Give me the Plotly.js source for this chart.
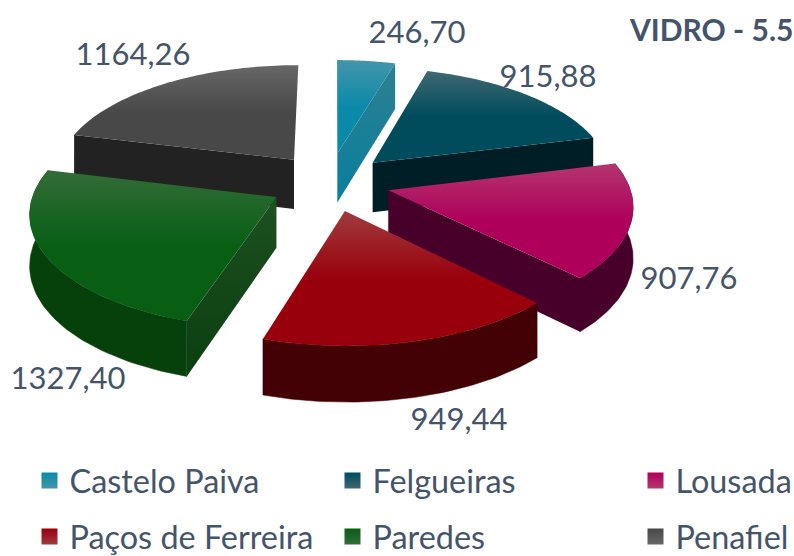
<!DOCTYPE html>
<html>
<head>
<meta charset="utf-8">
<script src="https://cdn.plot.ly/plotly-3.0.1.min.js"></script>
<style>html,body{margin:0;padding:0;background:#fff;overflow:hidden}#chart{width:794px;height:556px}</style>
</head>
<body>
<div id="chart"></div>
<script>
// ---- data ----
const categories = ["Castelo Paiva", "Felgueiras", "Lousada", "Paços de Ferreira", "Paredes", "Penafiel"];
const values = [246.70, 915.88, 907.76, 949.44, 1327.40, 1164.26];
const chartTitle = "VIDRO - 5.5";

// ---- style ----
const topLight = ["#4495aa", "#3f6871", "#b5356f", "#a03c3e", "#336c38", "#676767"];
const topDark  = ["#0a8aa8", "#004c5c", "#ae005a", "#98000c", "#085f14", "#484848"];
const sideTop  = ["#2e7f93", "#001e25", "#47002a", "#430005", "#1d5022", "#222222"];
const sideBot  = ["#077f9c", "#001e25", "#47002a", "#430005", "#0a3f0e", "#222222"];
const wall     = ["#1d7f96", "#001e25", "#47002a", "#430005", "#06400b", "#222222"];
const visibleSide = ["end", "end", "end", "", "start", "start"];
const visibleOuter = [false, false, true, true, true, false];
const pullX = [0.01, 0.16, 0.22, 0.04, -0.24, -0.175];
const pullY = [0.23, 0.14, -0.11, -0.29, -0.17, 0.17];
const labelX = [417, 548, 689, 459, 68, 133];
const labelY = [35, 79, 281, 422, 381, 57];
const drawOrder = [5, 0, 1, 4, 2, 3];
const legendX = [29.5, 332.5, 635.5, 29.5, 332.5, 635.5];
const legendY = [481, 481, 481, 537, 537, 537];
const textColor = "#44546a";
const fontName = "Lato, Carlito, sans-serif";
const W = 794, H = 556;
const CX = 335, CY = 178, A = 239, B = 110, P = 0.12, DEPTH = 50;

// ---- projection of the tilted disc ----
function project(i, th, down) {
  const X = pullX[i] + (th === null ? 0 : Math.sin(th));
  const Y = pullY[i] + (th === null ? 0 : Math.cos(th));
  const w = 1 / (1 + P * Y);
  const d = down ? DEPTH * Math.pow(w, 0.7) : 0;
  return [CX + A * X * w, CY - B * Y * w + d];
}
const total = values.reduce((a, b) => a + b, 0);
const starts = [], ends = [];
values.reduce((acc, v, i) => {
  starts[i] = acc / total * 2 * Math.PI;
  ends[i] = (acc + v) / total * 2 * Math.PI;
  return acc + v;
}, 0);

function poly(pts, fill, stops) {
  const t = {
    type: "scatter", x: pts.map(p => p[0]), y: pts.map(p => p[1]),
    fill: "toself", showlegend: false, hoverinfo: "skip"
  };
  if (stops) {
    t.mode = "none";
    t.fillgradient = { type: "vertical", colorscale: stops };
  } else {
    t.mode = "lines";
    t.line = { color: fill, width: 0.5 };
    t.fillcolor = fill;
  }
  return t;
}

const traces = [];
drawOrder.forEach(i => {
  const n = 60, arc = [];
  for (let k = 0; k <= n; k++) arc.push(starts[i] + (ends[i] - starts[i]) * k / n);
  const a0 = project(i, null, false), a1 = project(i, null, true);
  const edge = visibleSide[i] === "start" ? starts[i] : ends[i];
  if (visibleSide[i]) {
    const e0 = project(i, edge, false), e1 = project(i, edge, true);
    traces.push(poly([a0, e0, e1, a1, a0], null, [[0, sideBot[i]], [1, sideTop[i]]]));
  }
  const outerTop = arc.map(t => project(i, t, false));
  if (visibleOuter[i]) {
    const outerBot = arc.map(t => project(i, t, true)).reverse();
    traces.push(poly(outerTop.concat(outerBot, [outerTop[0]]), wall[i]));
  }
  traces.push(poly([a0].concat(outerTop, [a0]), null, [[0, topDark[i]], [0.5, topDark[i]], [1, topLight[i]]]));
});

// value labels
traces.push({
  type: "scatter", mode: "text", x: labelX, y: labelY,
  text: values.map(v => v.toFixed(2).replace(".", ",")),
  textposition: "middle center",
  textfont: { family: fontName, size: 31, color: textColor },
  showlegend: false, hoverinfo: "skip"
});

// legend entries
const legends = {};
categories.forEach((c, i) => {
  const key = i === 0 ? "legend" : "legend" + (i + 1);
  traces.push({
    type: "scatter", mode: "markers", x: [null], y: [null], name: c, legend: key,
    marker: { symbol: "square", size: 16, color: topDark[i], gradient: { type: "vertical", color: topLight[i] } }
  });
  legends[key] = {
    x: legendX[i] / W, y: 1 - legendY[i] / H, xanchor: "left", yanchor: "middle",
    bgcolor: "rgba(0,0,0,0)", borderwidth: 0, itemclick: false, itemdoubleclick: false,
    font: { family: fontName, size: 32.4, color: textColor }
  };
});

const layout = Object.assign({
  width: W, height: H, paper_bgcolor: "#fff", plot_bgcolor: "#fff",
  margin: { l: 0, r: 0, t: 0, b: 0, autoexpand: false },
  showlegend: true,
  title: {
    text: "<b>" + chartTitle + "</b>", x: 630 / W, xanchor: "left", y: 1 - 30 / H, yanchor: "middle",
    font: { family: fontName, size: 30, color: textColor }
  },
  xaxis: { range: [0, W], visible: false, fixedrange: true },
  yaxis: { range: [H, 0], visible: false, fixedrange: true }
}, legends);

Plotly.newPlot("chart", traces, layout, { displayModeBar: false });
</script>
</body>
</html>
